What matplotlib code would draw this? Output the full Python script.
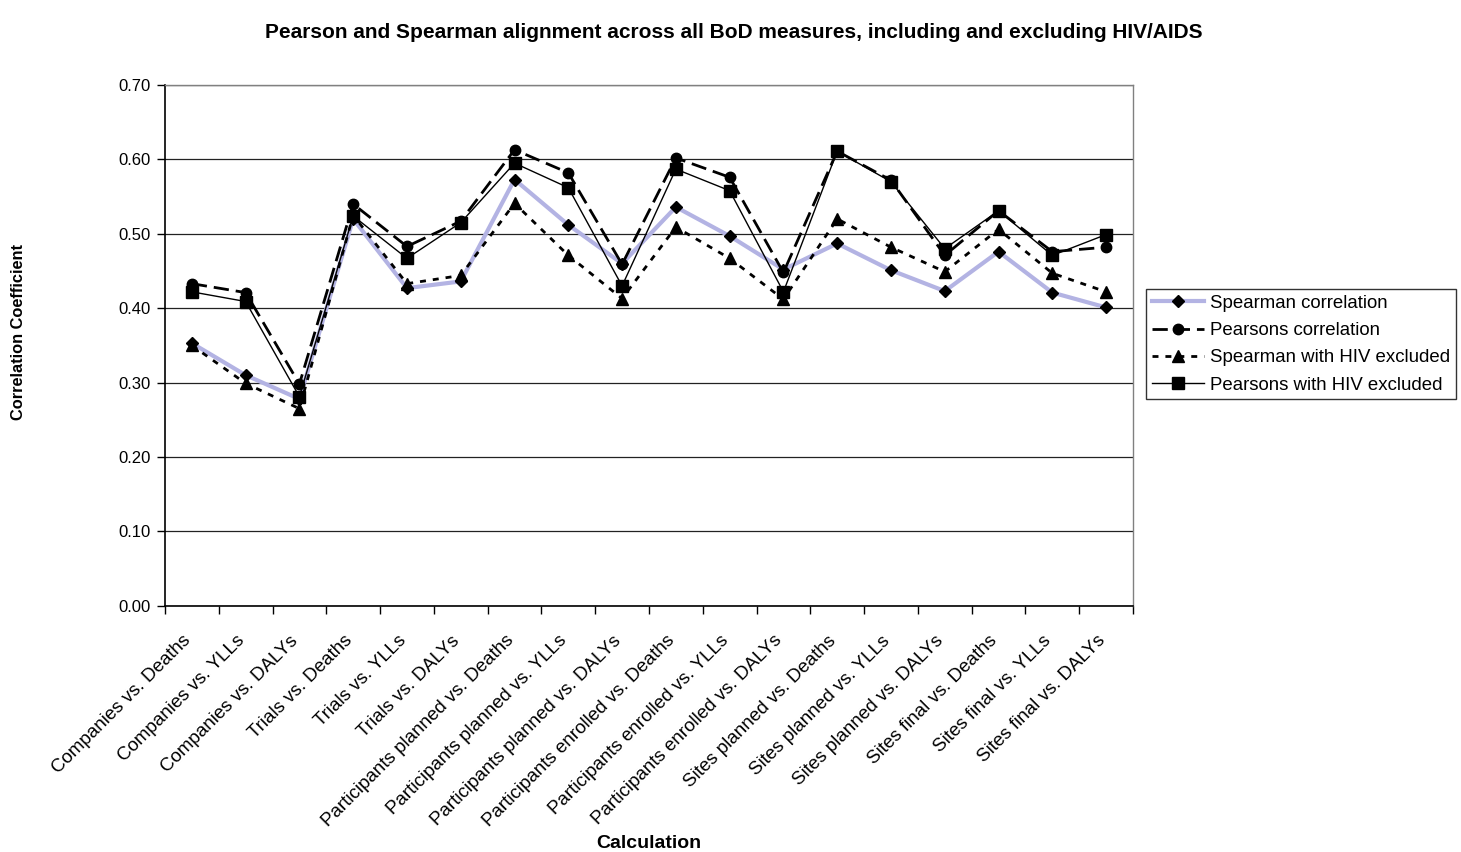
import matplotlib
matplotlib.use("Agg")
import matplotlib.pyplot as plt
import matplotlib.transforms as mtransforms
import numpy as np
from matplotlib.ticker import FixedLocator, FormatStrFormatter

plt.rcParams["font.family"] = ["Liberation Sans", "DejaVu Sans"]
plt.rcParams["lines.scale_dashes"] = False

categories = [
    "Companies vs. Deaths", "Companies vs. YLLs", "Companies vs. DALYs",
    "Trials vs. Deaths", "Trials vs. YLLs", "Trials vs. DALYs",
    "Participants planned vs. Deaths", "Participants planned vs. YLLs",
    "Participants planned vs. DALYs", "Participants enrolled vs. Deaths",
    "Participants enrolled vs. YLLs", "Participants enrolled vs. DALYs",
    "Sites planned vs. Deaths", "Sites planned vs. YLLs", "Sites planned vs. DALYs",
    "Sites final vs. Deaths", "Sites final vs. YLLs", "Sites final vs. DALYs",
]

spearman = [0.353, 0.310, 0.278, 0.520, 0.427, 0.436, 0.573, 0.512, 0.460,
            0.536, 0.497, 0.452, 0.487, 0.451, 0.423, 0.476, 0.421, 0.401]
pearson = [0.433, 0.421, 0.298, 0.540, 0.483, 0.517, 0.613, 0.582, 0.459,
           0.602, 0.576, 0.448, 0.611, 0.572, 0.471, 0.531, 0.476, 0.482]
spearman_no_hiv = [0.350, 0.299, 0.265, 0.525, 0.433, 0.444, 0.541, 0.471, 0.413,
                   0.509, 0.467, 0.412, 0.520, 0.482, 0.449, 0.506, 0.447, 0.422]
pearson_no_hiv = [0.422, 0.409, 0.281, 0.524, 0.467, 0.515, 0.595, 0.562, 0.430,
                  0.587, 0.558, 0.422, 0.611, 0.570, 0.480, 0.531, 0.471, 0.499]

series_labels = ["Spearman correlation", "Pearsons correlation",
                 "Spearman with HIV excluded", "Pearsons with HIV excluded"]

fig = plt.figure(figsize=(14.61, 8.52), dpi=100)
ax = fig.add_axes([0.1129, 0.289, 0.7755 - 0.1129, 0.9002 - 0.289])

x = np.arange(len(categories))

ax.plot(x, spearman, color="#B3B3E3", lw=3.0, linestyle="-",
        marker="D", ms=6.5, mfc="black", mec="black", label=series_labels[0], zorder=3)
ax.plot(x, pearson, color="black", lw=2.0, linestyle=(0, (11, 5)),
        marker="o", ms=7.5, mfc="black", mec="black", label=series_labels[1], zorder=4)
ax.plot(x, spearman_no_hiv, color="black", lw=2.0, linestyle=(0, (4.3, 5)),
        marker="^", ms=8, mfc="black", mec="black", label=series_labels[2], zorder=5)
ax.plot(x, pearson_no_hiv, color="black", lw=1.0, linestyle="-",
        marker="s", ms=9, mfc="black", mec="black", label=series_labels[3], zorder=6)

ax.set_xlim(-0.5, len(categories) - 0.5)
ax.set_ylim(0, 0.70)
ax.yaxis.set_major_locator(FixedLocator(np.arange(0, 0.701, 0.1)))
ax.yaxis.set_major_formatter(FormatStrFormatter("%.2f"))
ax.grid(axis="y", color="#222222", lw=0.9, zorder=0)
ax.set_axisbelow(True)

# category labels centred on points, tick marks on the boundaries
ax.set_xticks(x)
ax.set_xticklabels(categories, rotation=45, ha="right", rotation_mode="anchor",
                   fontsize=13.5)
ax.tick_params(axis="x", which="major", length=0, pad=19)
shift = mtransforms.ScaledTranslation(-7 / 72, 0, fig.dpi_scale_trans)
for lbl in ax.get_xticklabels():
    lbl.set_transform(lbl.get_transform() + shift)
ax.set_xticks(np.arange(-0.5, len(categories), 1.0), minor=True)
ax.tick_params(axis="x", which="minor", length=6, width=1, direction="out", color="black")
ax.tick_params(axis="y", length=6, width=1, direction="out", labelsize=12, pad=4)

for side in ("left", "bottom"):
    ax.spines[side].set_color("black")
    ax.spines[side].set_linewidth(1.2)
for side in ("top", "right"):
    ax.spines[side].set_color("#808080")
    ax.spines[side].set_linewidth(1.0)

fig.text(0.502, 0.962, "Pearson and Spearman alignment across all BoD measures, including and excluding HIV/AIDS",
         ha="center", va="center", fontsize=15, fontweight="bold")
fig.text(649 / 1461, 1 - 843 / 852, "Calculation", ha="center", va="center",
         fontsize=14, fontweight="bold")
fig.text(19 / 1461, 1 - 332 / 852, "Correlation Coefficient", ha="center", va="center",
         rotation=90, fontsize=11.8, fontweight="bold")

leg = fig.legend(loc="center left", bbox_to_anchor=(1146 / 1461, 0.596), fontsize=13.4,
                 frameon=True, fancybox=False, shadow=False, edgecolor="black",
                 handlelength=2.8, numpoints=1, labelspacing=0.55, borderpad=0.3,
                 handletextpad=0.35, borderaxespad=0)
leg.get_frame().set_linewidth(1.0)

fig.savefig("out.png", dpi=100, facecolor="white")
